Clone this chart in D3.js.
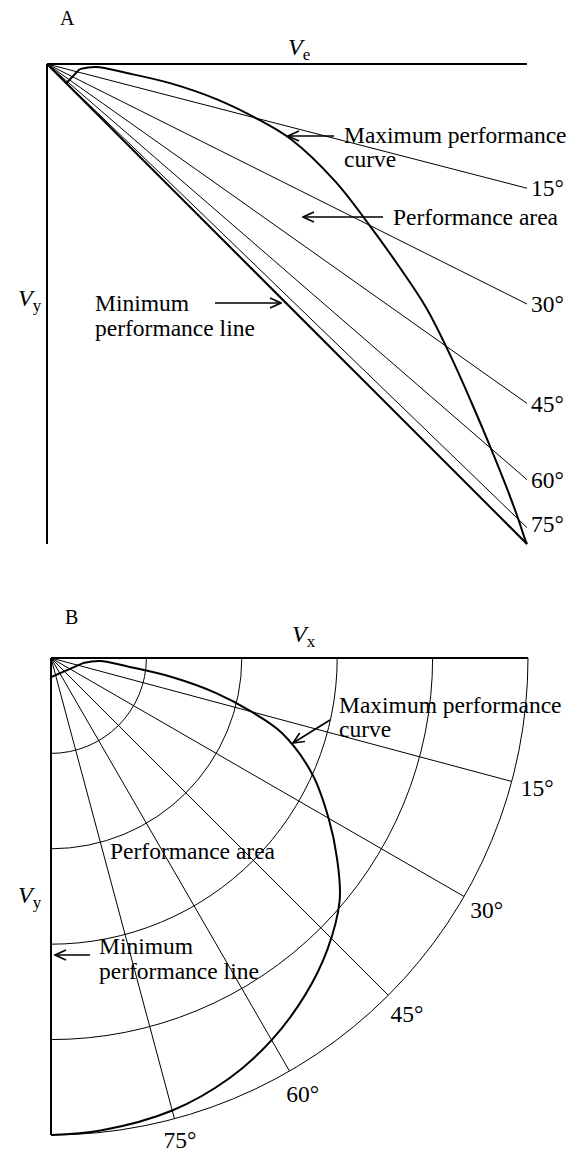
<!DOCTYPE html>
<html>
<head>
<meta charset="utf-8">
<script src="https://cdn.jsdelivr.net/npm/d3@7"></script>
<style>
  body { margin: 0; background: #fff; }
  svg text { font-family: "Liberation Serif", "Times New Roman", serif; fill: #000; }
</style>
</head>
<body>
<div id="chart"></div>
<script>
// glide angles (deg below horizontal) drawn as rays
const angles = [15, 30, 45, 60, 75];
const angleLabels = ['15°', '30°', '45°', '60°', '75°'];
// maximum performance curve: angle (deg) and speed (fraction of max)
const curveAngle = [90, 9, 3.5, 6.5, 9, 12, 15, 18, 24, 30, 35, 40, 46.5, 53, 60, 67, 75, 84, 90];
const curveSpeed = [0.04, 0.068, 0.102, 0.166, 0.258, 0.354, 0.435, 0.509, 0.60, 0.672, 0.732, 0.79, 0.842, 0.885, 0.925, 0.957, 0.982, 0.996, 1.0];
// polar grid rings in panel B
const rings = [0.2, 0.4, 0.6, 0.8, 1.0];

const FS = 23.5;
const rad = d => d * Math.PI / 180;
const curve = curveAngle.map((a, i) => ({ a: rad(a), v: curveSpeed[i] }));

const svg = d3.select('#chart').append('svg')
  .attr('width', 571).attr('height', 1152);

const defs = svg.append('defs');
defs.append('marker')
  .attr('id', 'head')
  .attr('viewBox', '-1 -6 13 12')
  .attr('markerWidth', 13).attr('markerHeight', 12)
  .attr('markerUnits', 'userSpaceOnUse')
  .attr('refX', 0).attr('refY', 0)
  .attr('orient', 'auto')
  .append('path')
  .attr('d', 'M11,-5L0,0L11,5')
  .attr('fill', 'none').attr('stroke', '#000').attr('stroke-width', 1.6);

function arrow(g, x1, y1, x2, y2) {
  // arrowhead sits at (x1, y1)
  g.append('line')
    .attr('x1', x1).attr('y1', y1).attr('x2', x2).attr('y2', y2)
    .attr('stroke', '#000').attr('stroke-width', 1.6)
    .attr('marker-start', 'url(#head)');
}

function textLines(g, x, y, lines, lh) {
  const t = g.append('text').attr('x', x).attr('y', y).attr('font-size', FS);
  lines.forEach((s, i) => t.append('tspan').attr('x', x).attr('dy', i ? lh : 0).text(s));
}

function vLabel(g, x, y, sub) {
  const t = g.append('text').attr('x', x).attr('y', y).attr('font-size', 24);
  t.append('tspan').attr('font-style', 'italic').text('V');
  t.append('tspan').attr('font-size', 17).attr('dy', 5).text(sub);
}

// curve: straight first leg off the minimum line, then smooth
function drawCurve(g, fx, fy) {
  g.append('path')
    .datum(curve.slice(0, 2))
    .attr('d', d3.line().x(fx).y(fy))
    .attr('fill', 'none').attr('stroke', '#000').attr('stroke-width', 2);
  g.append('path')
    .datum(curve.slice(1))
    .attr('d', d3.line().x(fx).y(fy).curve(d3.curveCatmullRom.alpha(0.5)))
    .attr('fill', 'none').attr('stroke', '#000').attr('stroke-width', 2)
    .attr('stroke-linejoin', 'round');
}

// ---------- Panel A : Ve vs Vy ----------
const xA = d3.scaleLinear().domain([0, 1]).range([47, 527]);
const yA = d3.scaleLinear().domain([0, 1]).range([64, 544]);
const gA = svg.append('g');

gA.append('text').attr('x', 60).attr('y', 25).attr('font-size', 20).text('A');
vLabel(gA, 288, 55, 'e');
vLabel(gA, 18, 306, 'y');

// angle rays: Vy = Ve * sin(angle)
angles.forEach((a, i) => {
  gA.append('line')
    .attr('x1', xA(0)).attr('y1', yA(0))
    .attr('x2', xA(1)).attr('y2', yA(Math.sin(rad(a))))
    .attr('stroke', '#000').attr('stroke-width', 1);
  gA.append('text')
    .attr('x', xA(1) + 4).attr('y', yA(Math.sin(rad(a))) + (a === 75 ? -4 : 0))
    .attr('dy', '0.35em').attr('font-size', FS).text(angleLabels[i]);
});

// minimum performance line (vertical dive)
gA.append('line')
  .attr('x1', xA(0)).attr('y1', yA(0)).attr('x2', xA(1)).attr('y2', yA(1))
  .attr('stroke', '#000').attr('stroke-width', 2);

// maximum performance curve
drawCurve(gA, d => xA(d.v), d => yA(d.v * Math.sin(d.a)));

// axes
gA.append('line').attr('x1', xA(0)).attr('y1', yA(0)).attr('x2', xA(1)).attr('y2', yA(0))
  .attr('stroke', '#000').attr('stroke-width', 2);
gA.append('line').attr('x1', xA(0)).attr('y1', yA(0)).attr('x2', xA(0)).attr('y2', yA(1))
  .attr('stroke', '#000').attr('stroke-width', 2);

textLines(gA, 344, 143, ['Maximum performance', 'curve'], 24);
arrow(gA, 288, 136, 334, 136);
textLines(gA, 393, 225, ['Performance area'], 24);
arrow(gA, 303, 217, 383, 217);
textLines(gA, 95, 311, ['Minimum', 'performance line'], 25);
arrow(gA, 281, 303, 215, 303);

// ---------- Panel B : polar Vx / Vy ----------
const xB = d3.scaleLinear().domain([0, 1]).range([51, 528]);
const yB = d3.scaleLinear().domain([0, 1]).range([658, 1135]);
const gB = svg.append('g');

gB.append('text').attr('x', 65).attr('y', 624).attr('font-size', 20).text('B');
vLabel(gB, 292, 642, 'x');
vLabel(gB, 18, 903, 'y');

// rings
rings.forEach(r => {
  const p = d3.path();
  const rr = xB(r) - xB(0);
  p.moveTo(xB(0) + rr, yB(0));
  p.arc(xB(0), yB(0), rr, 0, Math.PI / 2);
  gB.append('path').attr('d', p.toString())
    .attr('fill', 'none').attr('stroke', '#000').attr('stroke-width', 1);
});

// rays
angles.forEach((a, i) => {
  gB.append('line')
    .attr('x1', xB(0)).attr('y1', yB(0))
    .attr('x2', xB(Math.cos(rad(a)))).attr('y2', yB(Math.sin(rad(a))))
    .attr('stroke', '#000').attr('stroke-width', 1);
  const lr = a === 75 ? 1.045 : 1.055;
  gB.append('text')
    .attr('x', xB(lr * Math.cos(rad(a)))).attr('y', yB(lr * Math.sin(rad(a))))
    .attr('text-anchor', 'middle').attr('dy', '0.35em')
    .attr('font-size', FS).text(angleLabels[i]);
});

// maximum performance curve
drawCurve(gB, d => xB(d.v * Math.cos(d.a)), d => yB(d.v * Math.sin(d.a)));

// axes
gB.append('line').attr('x1', xB(0)).attr('y1', yB(0)).attr('x2', xB(1)).attr('y2', yB(0))
  .attr('stroke', '#000').attr('stroke-width', 2);
gB.append('line').attr('x1', xB(0)).attr('y1', yB(0)).attr('x2', xB(0)).attr('y2', yB(1))
  .attr('stroke', '#000').attr('stroke-width', 2);

textLines(gB, 339, 713, ['Maximum performance', 'curve'], 24);
arrow(gB, 293, 743, 330, 720);
textLines(gB, 110, 859, ['Performance area'], 24);
textLines(gB, 99, 954, ['Minimum', 'performance line'], 25);
arrow(gB, 55, 955, 90, 955);
</script>
</body>
</html>
